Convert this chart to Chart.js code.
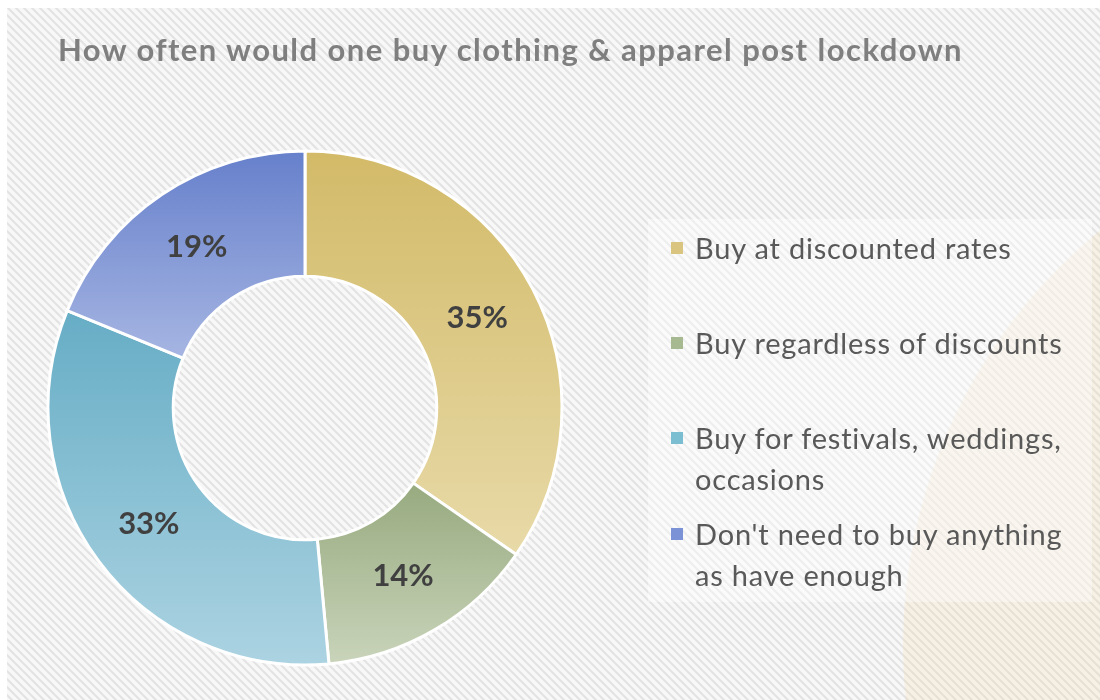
<!DOCTYPE html>
<html>
<head>
<meta charset="utf-8">
<title>Clothing purchase post lockdown</title>
<script src="https://cdn.jsdelivr.net/npm/chart.js@4.4.1/dist/chart.umd.min.js"></script>
<style>
  body { margin: 0; background: #fff; }
  #wrap { position: relative; width: 1100px; height: 700px; overflow: hidden; font-family: Lato, 'Open Sans', sans-serif; }
  #pie { position: absolute; left: 0; top: 0; }
  #title { position: absolute; left: 58px; top: 30px; font-size: 31px; letter-spacing: 1.45px; font-weight: bold; color: #7f7f7f; white-space: nowrap; }
  #legend { position: absolute; left: 671px; top: 0; }
  .item { position: absolute; left: 0; width: 420px; }
  .swatch { position: absolute; left: 0; top: 15px; width: 12px; height: 12px; }
  .label { margin-left: 24px; width: 380px; font-size: 29px; letter-spacing: 0.8px; line-height: 41px; color: #595959; }
</style>
</head>
<body>
<div id="wrap">
  <canvas id="pie" width="1100" height="700"></canvas>
  <div id="title">How often would one buy clothing &amp; apparel post lockdown</div>
  <div id="legend"></div>
</div>
<script>
// answers and their share in percent
const answers = [
  'Buy at discounted rates',
  'Buy regardless of discounts',
  'Buy for festivals, weddings, occasions',
  "Don't need to buy anything as have enough"
];
const shares = [35, 14, 33, 19];

// slice fills run from a darker top to a lighter bottom
const topColors = ['#d2ba68', '#97aa7f', '#66adc5', '#6680cb'];
const bottomColors = ['#e8daa8', '#c9d4ba', '#acd3e2', '#a6b5e2'];
const swatchColors = ['#d9c480', '#a7b990', '#7bbdd1', '#7c92d6'];

const OUTER_R = 257;
const INNER_R = 131;

function sliceFill(context) {
  const chart = context.chart;
  const area = chart.chartArea;
  const i = context.dataIndex;
  if (!area || i === undefined) return swatchColors[i || 0];
  const cy = (area.top + area.bottom) / 2;
  const total = shares.reduce((a, b) => a + b, 0);
  const before = shares.slice(0, i).reduce((a, b) => a + b, 0);
  const a0 = before / total * 2 * Math.PI - Math.PI / 2;
  const a1 = (before + shares[i]) / total * 2 * Math.PI - Math.PI / 2;
  const ys = [];
  [OUTER_R, INNER_R].forEach(r => {
    ys.push(cy + r * Math.sin(a0), cy + r * Math.sin(a1));
  });
  if (a0 <= Math.PI / 2 && a1 >= Math.PI / 2) ys.push(cy + OUTER_R);
  if (i === 0 || a1 >= 1.5 * Math.PI - 1e-9) ys.push(cy - OUTER_R);
  const g = chart.ctx.createLinearGradient(0, Math.min(...ys), 0, Math.max(...ys));
  g.addColorStop(0, topColors[i]);
  g.addColorStop(1, bottomColors[i]);
  return g;
}

function stripes() {
  const tile = document.createElement('canvas');
  tile.width = 8;
  tile.height = 8;
  const t = tile.getContext('2d');
  t.fillStyle = '#f8f8f8';
  t.fillRect(0, 0, 8, 8);
  t.strokeStyle = '#e3e3e3';
  t.lineWidth = 2.2;
  [[-1, -1, 9, 9], [-1, 7, 1, 9], [7, -1, 9, 1]].forEach(([x0, y0, x1, y1]) => {
    t.beginPath();
    t.moveTo(x0, y0);
    t.lineTo(x1, y1);
    t.stroke();
  });
  return tile;
}

// striped panel, pale beige disc on the right and the light box behind the legend
const backdrop = {
  id: 'backdrop',
  beforeDraw(chart) {
    const ctx = chart.ctx;
    ctx.save();
    ctx.fillStyle = '#fff';
    ctx.fillRect(0, 0, chart.width, chart.height);
    ctx.beginPath();
    ctx.rect(7, 8, chart.width - 7, chart.height - 8);
    ctx.clip();
    ctx.fillStyle = ctx.createPattern(stripes(), 'repeat');
    ctx.fillRect(7, 8, chart.width - 7, chart.height - 8);
    ctx.beginPath();
    ctx.arc(1440, 646, 537, 0, 2 * Math.PI);
    ctx.fillStyle = 'rgba(245, 220, 165, 0.22)';
    ctx.fill();
    ctx.fillStyle = 'rgba(255, 255, 255, 0.4)';
    ctx.fillRect(648, 219, 444, 383);
    ctx.restore();
  }
};

const sliceLabels = {
  id: 'sliceLabels',
  afterDatasetsDraw(chart) {
    const ctx = chart.ctx;
    ctx.save();
    ctx.font = 'bold 31px Lato';
    ctx.fillStyle = '#404040';
    ctx.textAlign = 'center';
    ctx.textBaseline = 'middle';
    chart.getDatasetMeta(0).data.forEach((arc, i) => {
      const p = arc.tooltipPosition();
      ctx.fillText(shares[i] + '%', p.x, p.y);
    });
    ctx.restore();
  }
};

new Chart(document.getElementById('pie'), {
  type: 'doughnut',
  data: {
    labels: answers,
    datasets: [{
      data: shares,
      backgroundColor: sliceFill,
      borderColor: '#ffffff',
      borderWidth: 3,
      hoverOffset: 0
    }]
  },
  options: {
    responsive: false,
    animation: false,
    events: [],
    radius: OUTER_R,
    cutout: INNER_R,
    layout: { padding: { left: 46, top: 151, right: 536, bottom: 35 } },
    plugins: {
      legend: { display: false },
      tooltip: { enabled: false }
    }
  },
  plugins: [backdrop, sliceLabels]
});

// legend entries, one line each except the two long answers
const legendTops = [227, 322, 417, 513];
const legend = document.getElementById('legend');
answers.forEach((text, i) => {
  const item = document.createElement('div');
  item.className = 'item';
  item.style.top = legendTops[i] + 'px';
  const sw = document.createElement('div');
  sw.className = 'swatch';
  sw.style.background = swatchColors[i];
  const label = document.createElement('div');
  label.className = 'label';
  label.textContent = text;
  item.appendChild(sw);
  item.appendChild(label);
  legend.appendChild(item);
});
</script>
</body>
</html>
